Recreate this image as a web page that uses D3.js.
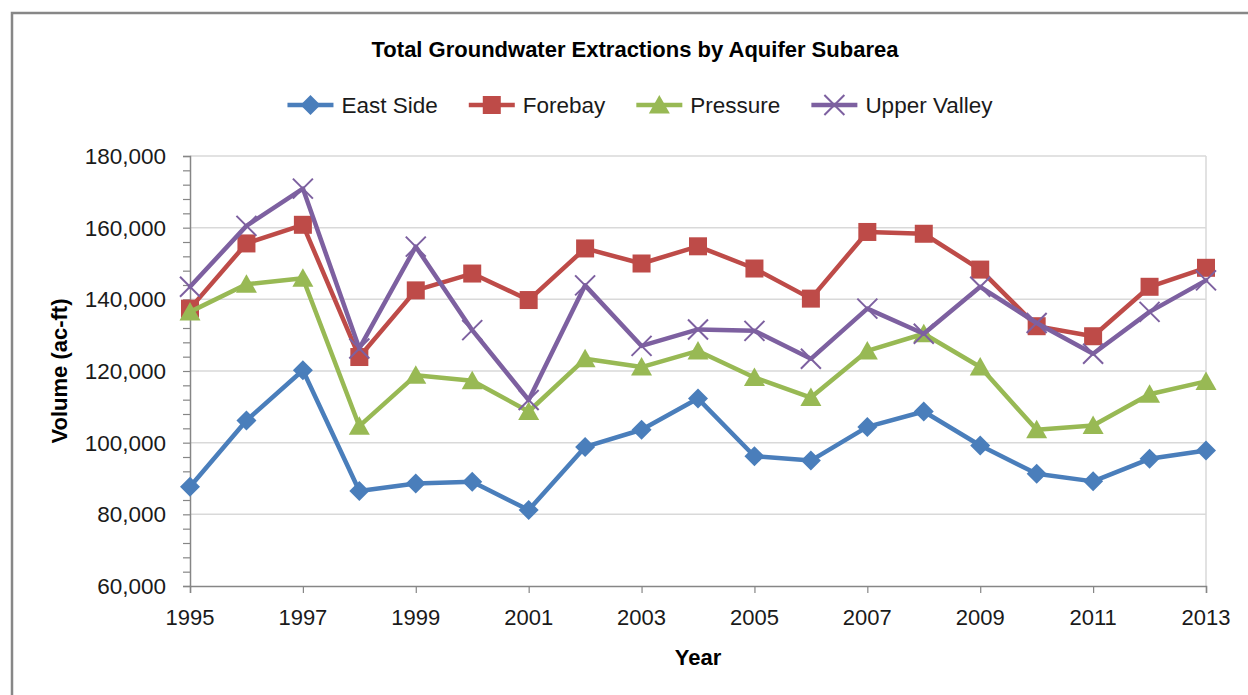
<!DOCTYPE html>
<html>
<head>
<meta charset="utf-8">
<script src="https://cdn.jsdelivr.net/npm/d3@7"></script>
<style>
  body { margin: 0; background: #fff; }
  svg { display: block; font-family: "Liberation Sans", Arial, sans-serif; }
</style>
</head>
<body>
<script>
// values, acre-feet
const years = d3.range(1995, 2014);
const eastSide    = [87700, 106200, 120200, 86500, 88600, 89100, 81200, 98800, 103600, 112300, 96200, 95000, 104400, 108700, 99200, 91300, 89200, 95500, 97800];
const forebay     = [137400, 155600, 160800, 123900, 142500, 147200, 139800, 154200, 150000, 154800, 148600, 140200, 158800, 158300, 148300, 132500, 129700, 143500, 148800];
const pressure    = [136500, 144200, 145900, 104600, 118800, 117300, 108700, 123400, 121100, 125600, 118200, 112600, 125600, 130400, 121100, 103600, 104800, 113500, 117100];
const upperValley = [143500, 160500, 170900, 126300, 154700, 131400, 111900, 143900, 127000, 131600, 131200, 123400, 137400, 130400, 143500, 133400, 124800, 136500, 145300];
const seriesNames = ["East Side", "Forebay", "Pressure", "Upper Valley"];
const xTickYears = [1995, 1997, 1999, 2001, 2003, 2005, 2007, 2009, 2011, 2013];
const yTicks = [60000, 80000, 100000, 120000, 140000, 160000, 180000];

const W = 1248, H = 695;
const plotLeft = 190, plotRight = 1206, plotTop = 156, plotBottom = 586;

const series = [
  {name: seriesNames[0], values: eastSide, color: "#4a7ebb", marker: "diamond"},
  {name: seriesNames[1], values: forebay, color: "#be4b48", marker: "square"},
  {name: seriesNames[2], values: pressure, color: "#98b954", marker: "triangle"},
  {name: seriesNames[3], values: upperValley, color: "#7d60a0", marker: "x"}
];

const svg = d3.select("body").append("svg")
    .attr("width", W)
    .attr("height", H);

// outer chart frame (runs past the picture on the right and bottom)
svg.append("rect")
    .attr("x", 12).attr("y", 13)
    .attr("width", W + 20).attr("height", H + 20)
    .attr("fill", "none")
    .attr("stroke", "#878787")
    .attr("stroke-width", 2.5);

const x = d3.scaleLinear().domain([1995, 2013]).range([plotLeft, plotRight]);
const y = d3.scaleLinear().domain([60000, 180000]).range([plotBottom, plotTop]);

// gridlines
svg.append("g")
  .selectAll("line")
  .data(yTicks.slice(1))
  .enter().append("line")
    .attr("x1", plotLeft).attr("x2", plotRight)
    .attr("y1", d => y(d)).attr("y2", d => y(d))
    .attr("stroke", "#d9d9d9")
    .attr("stroke-width", 1.5);

svg.append("line")
    .attr("x1", plotRight).attr("x2", plotRight)
    .attr("y1", plotTop).attr("y2", plotBottom)
    .attr("stroke", "#d9d9d9")
    .attr("stroke-width", 1.5);

// y axis with minor ticks
const yAxis = svg.append("g")
    .attr("transform", "translate(" + plotLeft + ",0)")
    .call(d3.axisLeft(y).tickValues(d3.range(60000, 180001, 4000)).tickSize(7).tickFormat(""));
yAxis.select(".domain").attr("stroke", "#868686").attr("stroke-width", 1.5);
yAxis.selectAll(".tick line").attr("stroke", "#868686").attr("stroke-width", 1.2);

svg.append("g")
  .selectAll("text")
  .data(yTicks)
  .enter().append("text")
    .attr("x", 166)
    .attr("y", d => y(d))
    .attr("dy", "0.35em")
    .attr("text-anchor", "end")
    .attr("font-size", 22.5)
    .attr("fill", "#1a1a1a")
    .text(d3.format(","));

// x axis
const xAxis = svg.append("g")
    .attr("transform", "translate(0," + plotBottom + ")")
    .call(d3.axisBottom(x).tickValues(xTickYears).tickSize(7).tickFormat(""));
xAxis.select(".domain").attr("stroke", "#868686").attr("stroke-width", 1.5);
xAxis.selectAll(".tick line").attr("stroke", "#868686").attr("stroke-width", 1.2);

svg.append("g")
  .selectAll("text")
  .data(xTickYears)
  .enter().append("text")
    .attr("x", d => x(d))
    .attr("y", 625)
    .attr("text-anchor", "middle")
    .attr("font-size", 22)
    .attr("fill", "#1a1a1a")
    .text(d => d);

// titles
svg.append("text")
    .attr("x", 635).attr("y", 57)
    .attr("text-anchor", "middle")
    .attr("font-size", 22)
    .attr("font-weight", "bold")
    .text("Total Groundwater Extractions by Aquifer Subarea");

svg.append("text")
    .attr("x", (plotLeft + plotRight) / 2).attr("y", 665)
    .attr("text-anchor", "middle")
    .attr("font-size", 22)
    .attr("font-weight", "bold")
    .text("Year");

svg.append("text")
    .attr("transform", "translate(67," + ((plotTop + plotBottom) / 2) + ") rotate(-90)")
    .attr("text-anchor", "middle")
    .attr("font-size", 22)
    .attr("font-weight", "bold")
    .text("Volume (ac-ft)");

function drawMarker(g, type, color) {
  if (type === "diamond") {
    g.append("path").attr("d", "M0,-10L10,0L0,10L-10,0Z").attr("fill", color);
  } else if (type === "square") {
    g.append("rect").attr("x", -9).attr("y", -9).attr("width", 18).attr("height", 18).attr("fill", color);
  } else if (type === "triangle") {
    g.append("path").attr("d", "M0,-10L10.5,8.5L-10.5,8.5Z").attr("fill", color);
  } else {
    g.append("path").attr("d", "M-10,-10L10,10M-10,10L10,-10")
      .attr("stroke", color).attr("stroke-width", 2).attr("fill", "none");
  }
}

const line = d3.line()
    .x((d, i) => x(years[i]))
    .y(d => y(d));

series.forEach(function(s) {
  const g = svg.append("g");
  g.append("path")
      .attr("d", line(s.values))
      .attr("fill", "none")
      .attr("stroke", s.color)
      .attr("stroke-width", 4.5)
      .attr("stroke-linejoin", "round")
      .attr("stroke-linecap", "round");
  s.values.forEach(function(v, i) {
    const m = g.append("g").attr("transform", "translate(" + x(years[i]) + "," + y(v) + ")");
    drawMarker(m, s.marker, s.color);
  });
});

// legend
const legend = svg.append("g");
let cursor = 0;
series.forEach(function(s) {
  const item = legend.append("g").attr("transform", "translate(" + cursor + ",0)");
  item.append("line")
      .attr("x1", 0).attr("x2", 46)
      .attr("stroke", s.color).attr("stroke-width", 4.5);
  drawMarker(item.append("g").attr("transform", "translate(23,0)"), s.marker, s.color);
  const t = item.append("text")
      .attr("x", 54).attr("dy", "0.35em")
      .attr("font-size", 22.5)
      .attr("fill", "#1a1a1a")
      .text(s.name);
  cursor += 54 + t.node().getComputedTextLength() + 31;
});
cursor -= 31;
legend.attr("transform", "translate(" + (640 - cursor / 2) + ",105)");
</script>
</body>
</html>
